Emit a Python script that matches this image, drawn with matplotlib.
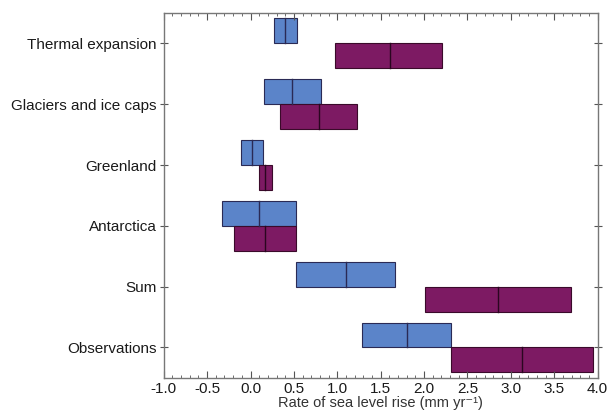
import matplotlib
matplotlib.use("Agg")
import matplotlib.pyplot as plt
from matplotlib.ticker import MultipleLocator

categories = ["Thermal expansion", "Glaciers and ice caps", "Greenland",
              "Antarctica", "Sum", "Observations"]
# 1961-2003 (blue): low, central, high
blue_low = [0.27, 0.16, -0.11, -0.33, 0.53, 1.29]
blue_mid = [0.40, 0.48, 0.02, 0.10, 1.10, 1.80]
blue_high = [0.54, 0.81, 0.14, 0.53, 1.67, 2.31]
# 1993-2003 (purple): low, central, high
purple_low = [0.97, 0.34, 0.10, -0.19, 2.01, 2.31]
purple_mid = [1.61, 0.79, 0.17, 0.17, 2.85, 3.13]
purple_high = [2.21, 1.23, 0.25, 0.53, 3.69, 3.95]

blue = "#5b84c9"
purple = "#7d1a63"
edge = "#2a2a55"

plt.rcParams["font.family"] = ["Liberation Sans", "DejaVu Sans"]

fig = plt.figure(figsize=(6.11, 4.18), dpi=100)
ax = fig.add_axes([0.268, 0.096, 0.710, 0.873])

h = 0.41
for i, cat in enumerate(categories):
    y = len(categories) - 1 - i
    ax.barh(y + h / 2, blue_high[i] - blue_low[i], left=blue_low[i], height=h,
            color=blue, edgecolor=edge, linewidth=0.8)
    ax.plot([blue_mid[i]] * 2, [y, y + h], color=edge, lw=1.0)
    ax.barh(y - h / 2, purple_high[i] - purple_low[i], left=purple_low[i], height=h,
            color=purple, edgecolor="#3a0a2a", linewidth=0.8)
    ax.plot([purple_mid[i]] * 2, [y - h, y], color="#2a0620", lw=1.0)

ax.set_xlim(-1.0, 4.0)
ax.set_ylim(-0.5, len(categories) - 0.5)
ax.set_yticks(range(len(categories)))
ax.set_yticklabels(categories[::-1], fontsize=11, color="#1a1a1a")
ax.xaxis.set_major_locator(MultipleLocator(0.5))
ax.xaxis.set_minor_locator(MultipleLocator(0.1))
ax.set_xticklabels([f"{v:.1f}" for v in ax.get_xticks()], fontsize=11,
                   color="#1a1a1a")
ax.tick_params(axis="x", which="both", direction="in", top=True, bottom=True,
               color="#555555", pad=3)
ax.tick_params(axis="x", which="major", length=5)
ax.tick_params(axis="x", which="minor", length=2.5)
ax.tick_params(axis="y", direction="inout", left=True, right=True, length=6,
               color="#555555", pad=2)
ax.tick_params(axis="y", which="minor", left=False, right=False)
for s in ax.spines.values():
    s.set_color("#777777")
    s.set_linewidth(1.0)
ax.set_xlabel("Rate of sea level rise (mm yr\u207b\u00b9)", fontsize=10.5,
              labelpad=0, color="#333333")

fig.savefig("out.png", dpi=100)
